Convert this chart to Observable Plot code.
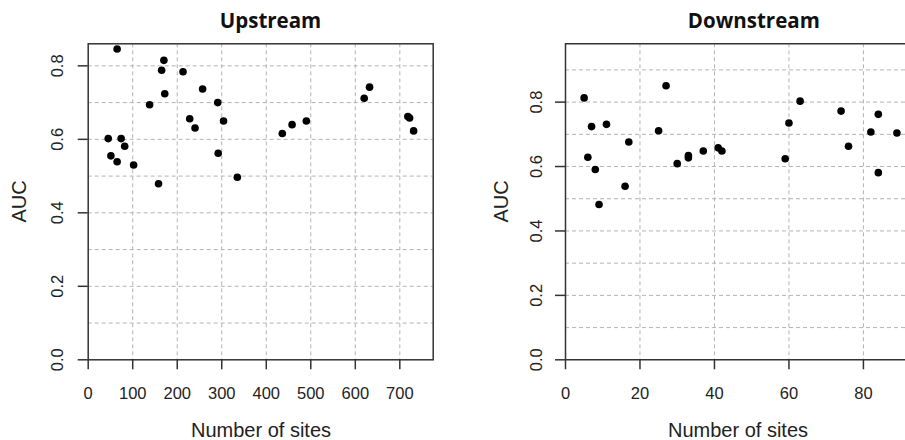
<!DOCTYPE html>
<html><head><meta charset="utf-8">
<script src="https://cdn.jsdelivr.net/npm/d3@7"></script>
<script src="https://cdn.jsdelivr.net/npm/@observablehq/plot@0.6"></script>
<style>
html,body{margin:0;padding:0;background:#fff;overflow:hidden}
#wrap{position:relative;width:905px;height:440px;overflow:hidden}
#up,#down{position:absolute;top:0}
#up{left:0}
#down{left:450px}
svg{display:block}
</style></head><body><div id="wrap"><div id="up"></div><div id="down"></div></div>
<script>
// Upstream panel data
const upSites = [65, 45, 74, 82, 51, 65, 102, 138, 158, 165, 170, 172, 213, 228, 240, 257, 291, 292, 304, 335, 436, 458, 490, 620, 632, 718, 722, 731];
const upAUC = [0.846, 0.602, 0.602, 0.581, 0.555, 0.539, 0.530, 0.694, 0.479, 0.788, 0.815, 0.724, 0.784, 0.656, 0.631, 0.737, 0.700, 0.562, 0.650, 0.497, 0.616, 0.640, 0.650, 0.712, 0.742, 0.662, 0.658, 0.623];
// Downstream panel data
const downSites = [5, 7, 6, 8, 9, 11, 16, 17, 25, 27, 30, 33, 33, 37, 41, 42, 59, 60, 63, 74, 76, 82, 84, 84, 89];
const downAUC = [0.813, 0.724, 0.629, 0.591, 0.482, 0.731, 0.539, 0.676, 0.711, 0.851, 0.609, 0.634, 0.627, 0.648, 0.658, 0.648, 0.624, 0.735, 0.803, 0.772, 0.663, 0.707, 0.762, 0.581, 0.704];
// Ticks
const upXTicks = [0, 100, 200, 300, 400, 500, 600, 700];
const downXTicks = [0, 20, 40, 60, 80];
const yTicks = [0, 0.2, 0.4, 0.6, 0.8];
const upYGrid = [0.1, 0.2, 0.3, 0.4, 0.5, 0.6, 0.7, 0.8];
const downYGrid = [0.1, 0.2, 0.3, 0.4, 0.5, 0.6, 0.7, 0.8, 0.9];
const titles = ["Upstream", "Downstream"];
const xLabel = "Number of sites";
const yLabel = "AUC";

const upData = upSites.map((s, i) => ({sites: s, auc: upAUC[i]}));
const downData = downSites.map((s, i) => ({sites: s, auc: downAUC[i]}));

const FONT = "Liberation Sans, Arial, sans-serif";
const TFONT = "Open Sans, Noto Sans, sans-serif";
const GRID = {stroke: "#b4b4b4", strokeOpacity: 1, strokeDasharray: "4,3", strokeWidth: 1};
const INK = "#333";
const H = 440, MT = 43.3, MB = 80.7;

function panel(cfg) {
  const ml = cfg.ml, W = cfg.width;
  const marks = [
    Plot.gridX(cfg.xTicks.filter(d => d > 0), GRID),
    Plot.gridY(cfg.yGrid, GRID),
    Plot.dot(cfg.data, {x: "sites", y: "auc", r: 3.8, fill: "black", stroke: "none"}),
    Plot.axisX(cfg.xTicks, {label: null, tickSize: 10, tickPadding: 17, fontSize: 16.5, fontFamily: FONT, stroke: INK, strokeWidth: 1.5, fill: "#222", tickFormat: d => String(d)}),
    Plot.axisY(yTicks, {label: null, tickSize: 10, tickFormat: () => "", stroke: INK, strokeWidth: 1.5}),
    Plot.text(yTicks, {y: d => d, text: d => d.toFixed(1), frameAnchor: "left", dx: cfg.yTickDx, rotate: -90, textAnchor: "middle", lineAnchor: "middle", fontSize: 16.5, fontFamily: FONT, fill: "#222"}),
    Plot.text([cfg.title], {text: d => d, frameAnchor: "top-left", dx: cfg.titleX - ml, dy: 20.7 - MT, textAnchor: "middle", lineAnchor: "middle", fontSize: 20.5, fontWeight: "bold", fontFamily: TFONT, fill: "#111"}),
    Plot.text([xLabel], {text: d => d, frameAnchor: "top-left", dx: cfg.xLabelX - ml, dy: 430 - MT, textAnchor: "middle", lineAnchor: "middle", fontSize: 20, fontFamily: FONT, fill: "#222"}),
    Plot.text([yLabel], {text: d => d, frameAnchor: "top-left", dx: cfg.yLabelX - ml, dy: 201 - MT, rotate: -90, textAnchor: "middle", lineAnchor: "middle", fontSize: 20, fontFamily: FONT, fill: "#222"})
  ];
  if (cfg.fullFrame) {
    marks.push(Plot.frame({stroke: INK, strokeWidth: 1.5}));
  } else {
    marks.push(Plot.ruleX([cfg.xDomain[0]], {stroke: INK, strokeWidth: 1.5}));
    marks.push(Plot.ruleY(cfg.yDomain, {stroke: INK, strokeWidth: 1.5}));
  }
  return Plot.plot({
    width: W, height: H,
    marginLeft: ml, marginRight: cfg.mr, marginTop: MT, marginBottom: MB,
    x: {domain: cfg.xDomain, label: null},
    y: {domain: cfg.yDomain, label: null},
    style: {background: "#fff", overflow: "visible"},
    marks
  });
}

document.getElementById("up").appendChild(panel({
  width: 450, ml: 87.7, mr: 17.3,
  xDomain: [0, 775], yDomain: [0, 0.86],
  xTicks: upXTicks, yGrid: upYGrid, data: upData,
  title: titles[0], titleX: 270, xLabelX: 260.5, yLabelX: 19, yTickDx: -30.7,
  fullFrame: true
}));
document.getElementById("down").appendChild(panel({
  width: 455, ml: 115, mr: 0,
  xDomain: [0, 91.3], yDomain: [0, 0.981],
  xTicks: downXTicks, yGrid: downYGrid, data: downData,
  title: titles[1], titleX: 753.3 - 450, xLabelX: 737.5 - 450, yLabelX: 500.7 - 450, yTickDx: -29.2,
  fullFrame: false
}));
</script></body></html>
